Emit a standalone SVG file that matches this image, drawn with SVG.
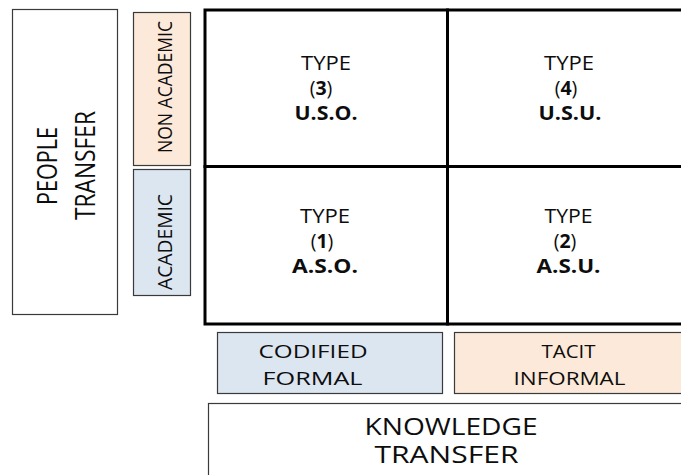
<svg xmlns="http://www.w3.org/2000/svg" width="681" height="475" viewBox="0 0 681 475">
<style>
  text { font-family: "Open Sans", "Noto Sans", "Liberation Sans", sans-serif; fill: #0d0d0d; }
  .box { fill: #ffffff; stroke: #3a3a3a; stroke-width: 1.2; }
  .peach { fill: #fde9d9; stroke: #3a3a3a; stroke-width: 1.2; }
  .blue { fill: #dce6f1; stroke: #3a3a3a; stroke-width: 1.2; }
  .cell { fill: #ffffff; stroke: #000; stroke-width: 3; }
  .ct { font-size: 19.5px; text-anchor: middle; }
  .b { font-weight: bold; }
  .lab { font-size: 18px; }
  .big { font-size: 24px; }
  .vt { font-size: 28px; }
  .vs { font-size: 19.5px; }
</style>
<rect width="681" height="475" fill="#ffffff"/>

<g id="people-transfer">
  <rect class="box" x="12.5" y="9.5" width="105" height="305"/>
  <text class="vt" transform="translate(57,205) rotate(-90)" x="0" y="0" textLength="78" lengthAdjust="spacingAndGlyphs">PEOPLE</text>
  <text class="vt" transform="translate(95,220) rotate(-90)" x="0" y="0" textLength="109" lengthAdjust="spacingAndGlyphs">TRANSFER</text>
</g>

<g id="non-academic">
  <rect class="peach" x="133.5" y="12.5" width="57" height="153"/>
  <text class="vs" transform="translate(172,153) rotate(-90)" x="0" y="0" textLength="132" lengthAdjust="spacingAndGlyphs">NON ACADEMIC</text>
</g>

<g id="academic">
  <rect class="blue" x="133.5" y="169.5" width="57" height="126"/>
  <text class="vs" transform="translate(172,290) rotate(-90)" x="0" y="0" textLength="96" lengthAdjust="spacingAndGlyphs">ACADEMIC</text>
</g>

<g id="type3">
  <rect class="cell" x="205" y="10" width="242.5" height="156.5"/>
  <text class="ct" x="326" y="70" textLength="50" lengthAdjust="spacingAndGlyphs">TYPE</text>
  <text class="ct" x="321" y="95">(<tspan class="b">3</tspan>)</text>
  <text class="ct b" x="326" y="120" textLength="63" lengthAdjust="spacingAndGlyphs">U.S.O.</text>
</g>

<g id="type4">
  <rect class="cell" x="447.5" y="10" width="250" height="156.5"/>
  <text class="ct" x="569" y="70" textLength="50" lengthAdjust="spacingAndGlyphs">TYPE</text>
  <text class="ct" x="566" y="95">(<tspan class="b">4</tspan>)</text>
  <text class="ct b" x="570" y="120" textLength="63" lengthAdjust="spacingAndGlyphs">U.S.U.</text>
</g>

<g id="type1">
  <rect class="cell" x="205" y="166.5" width="242.5" height="157.5"/>
  <text class="ct" x="325" y="223" textLength="50" lengthAdjust="spacingAndGlyphs">TYPE</text>
  <text class="ct" x="322" y="248">(<tspan class="b">1</tspan>)</text>
  <text class="ct b" x="325" y="273" textLength="66" lengthAdjust="spacingAndGlyphs">A.S.O.</text>
</g>

<g id="type2">
  <rect class="cell" x="447.5" y="166.5" width="250" height="157.5"/>
  <text class="ct" x="568.5" y="223" textLength="48" lengthAdjust="spacingAndGlyphs">TYPE</text>
  <text class="ct" x="565" y="248">(<tspan class="b">2</tspan>)</text>
  <text class="ct b" x="568.5" y="273" textLength="64" lengthAdjust="spacingAndGlyphs">A.S.U.</text>
</g>

<g id="codified-formal">
  <rect class="blue" x="217.5" y="332.5" width="225" height="61"/>
  <text class="lab" x="313" y="358" text-anchor="middle" textLength="109" lengthAdjust="spacingAndGlyphs">CODIFIED</text>
  <text class="lab" x="312.5" y="385" text-anchor="middle" textLength="100" lengthAdjust="spacingAndGlyphs">FORMAL</text>
</g>

<g id="tacit-informal">
  <rect class="peach" x="454.5" y="332.5" width="240" height="61"/>
  <text class="lab" x="568.5" y="358" text-anchor="middle" textLength="54" lengthAdjust="spacingAndGlyphs">TACIT</text>
  <text class="lab" x="569.5" y="385" text-anchor="middle" textLength="112" lengthAdjust="spacingAndGlyphs">INFORMAL</text>
</g>

<g id="knowledge-transfer">
  <rect class="box" x="208.5" y="403.5" width="490" height="90"/>
  <text class="big" x="451" y="435" text-anchor="middle" textLength="173" lengthAdjust="spacingAndGlyphs">KNOWLEDGE</text>
  <text class="big" x="446.5" y="463" text-anchor="middle" textLength="144" lengthAdjust="spacingAndGlyphs">TRANSFER</text>
</g>

<g id="connectors"></g>
</svg>
